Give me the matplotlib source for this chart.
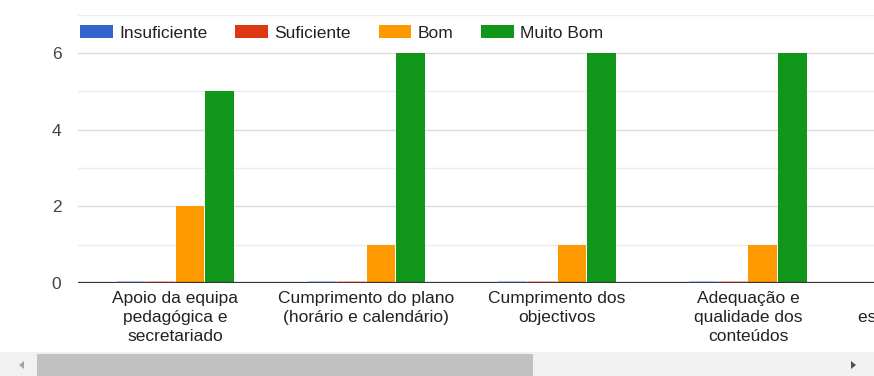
import numpy as np
import matplotlib.pyplot as plt
from matplotlib.patches import Rectangle, Polygon

plt.rcParams['font.family'] = ['Liberation Sans', 'DejaVu Sans']

# notas por item avaliado
categorias = [
    "Apoio da equipa\npedagógica e\nsecretariado",
    "Cumprimento do plano\n(horário e calendário)",
    "Cumprimento dos\nobjectivos",
    "Adequação e\nqualidade dos\nconteúdos",
    "Metodologias e\nestratégias utilizadas",
]
series = ["Insuficiente", "Suficiente", "Bom", "Muito Bom"]
insuficiente = [0, 0, 0, 0, 0]
suficiente = [0, 0, 0, 0, 0]
bom = [2, 1, 1, 1, 1]
muito_bom = [5, 6, 6, 6, 6]
cores = ["#3366cc", "#dc3912", "#ff9900", "#109618"]

fig = plt.figure(figsize=(8.74, 3.76), dpi=100)
ax = fig.add_axes([78 / 874, 93 / 376, 796 / 874, 268.3 / 376])

x = np.arange(len(categorias))
passo = 0.155
largura = 0.150
valores = [insuficiente, suficiente, bom, muito_bom]
for i, (nome, vals, cor) in enumerate(zip(series, valores, cores)):
    pos = x + (i - 1.5) * passo
    ax.bar(pos, vals, width=largura, color=cor, label=nome, zorder=3)
    # barras a zero aparecem como um traço fino na base
    zeros = [p for p, v in zip(pos, vals) if v == 0]
    for p in zeros:
        ax.plot([p - largura / 2, p + largura / 2], [0.03, 0.03], color=cor,
                lw=1.5, alpha=0.3, zorder=6, solid_capstyle='butt')

# grelha: linhas pares mais marcadas
for v in range(1, 8):
    ax.axhline(v, color="#dcdcdc" if v % 2 == 0 else "#ececec", lw=1, zorder=1)
ax.axhline(0, color="#333333", lw=1.6, zorder=5)

ax.set_yticks([0, 2, 4, 6])
ax.set_yticklabels(["0", "2", "4", "6"])
ax.set_xticks(x)
ax.set_xticklabels(categorias, linespacing=1.3)
# limites depois dos ticks, senão set_xticks alarga a vista
ax.set_xlim(-0.51, 3.66)
ax.set_ylim(0, 7)
ax.tick_params(axis='y', length=0, pad=12, labelsize=12.5, labelcolor="#444444")
ax.tick_params(axis='x', length=0, pad=6, labelsize=12.5, labelcolor="#222222")
for s in ax.spines.values():
    s.set_visible(False)

# as categorias fora da vista (gráfico com scroll) ficam cortadas na borda
for xi, cat in zip(x, categorias):
    if xi > ax.get_xlim()[1]:
        ax.annotate(cat, xy=(xi, 0), xycoords=('data', 'axes fraction'),
                    xytext=(0, -6), textcoords='offset points',
                    ha='center', va='top', fontsize=12.5, color="#222222",
                    linespacing=1.3, annotation_clip=False)

leg = ax.legend(loc='center left', bbox_to_anchor=(0.003, 0.933), ncol=4,
                frameon=False, fontsize=12.5, handlelength=1.85,
                handleheight=0.8, handletextpad=0.4, columnspacing=1.6,
                borderaxespad=0, borderpad=0)
for txt in leg.get_texts():
    txt.set_color("#222222")

# barra de scroll por baixo do gráfico
fig.add_artist(Rectangle((0, 0), 1, 24 / 376, transform=fig.transFigure,
                         facecolor="#f1f1f1", edgecolor="none"))
fig.add_artist(Rectangle((37 / 874, 0), 496 / 874, 22 / 376, transform=fig.transFigure,
                         facecolor="#c1c1c1", edgecolor="none"))
fig.add_artist(Polygon([(19 / 874, 11 / 376), (24 / 874, 7 / 376), (24 / 874, 15 / 376)],
                       closed=True, transform=fig.transFigure,
                       facecolor="#a3a3a3", edgecolor="none"))
fig.add_artist(Polygon([(856 / 874, 11 / 376), (851 / 874, 7 / 376), (851 / 874, 15 / 376)],
                       closed=True, transform=fig.transFigure,
                       facecolor="#505050", edgecolor="none"))

fig.savefig("out.png", dpi=100)
